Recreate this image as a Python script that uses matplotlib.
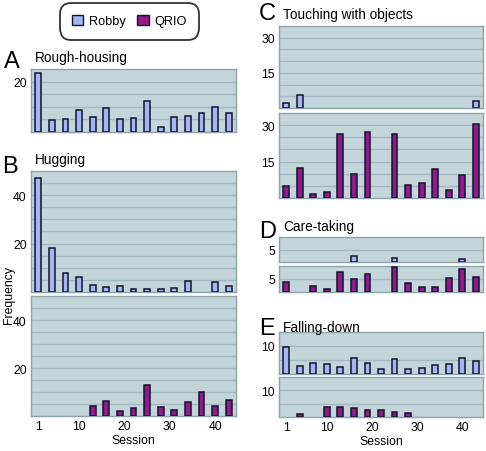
import numpy as np
import matplotlib
matplotlib.use('Agg')
import matplotlib.pyplot as plt
from matplotlib.patches import Patch

plt.rcParams['font.family'] = ['Liberation Sans', 'DejaVu Sans']

sessions = [1, 4, 7, 10, 13, 16, 19, 22, 25, 28, 31, 34, 37, 40, 43]
xticks = [1, 10, 20, 30, 40]

# Robby / QRIO frequencies per session (0 = no bar)
rough_robby = [23.4, 4.8, 5.2, 8.6, 5.8, 9.4, 5.1, 5.4, 12.3, 1.9, 5.9, 6.3, 7.4, 10.1, 7.6]
hug_robby = [47, 18, 8, 6, 3, 2, 2.5, 1.2, 1.3, 1.2, 1.6, 4.5, 0, 4, 2.6]
hug_qrio = [0, 0, 0, 0, 4.1, 6.3, 2.2, 3.2, 13, 3.9, 2.5, 5.9, 9.8, 4.1, 6.6]
touch_robby = [2, 5.5, 0, 0, 0, 0, 0, 0, 0, 0, 0, 0, 0, 0, 3]
touch_qrio = [5, 12.2, 1.7, 2.6, 26.5, 10, 27.2, 0, 26.2, 5.3, 6, 11.9, 3.5, 9.6, 30.4]
care_robby = [0, 0, 0, 0, 0, 2.4, 0, 0, 1.7, 0, 0, 0, 0, 1.4, 0]
care_qrio = [3.9, 0, 2.2, 1.2, 7.6, 4.9, 7, 0, 9.5, 3.4, 2, 1.9, 5.4, 9, 5.8]
fall_robby = [9.6, 2.9, 4.1, 3.6, 2.4, 5.75, 4, 1.9, 5.25, 1.9, 2.1, 3.25, 3.6, 5.75, 4.5]
fall_qrio = [0, 1.3, 0, 3.6, 3.7, 3.2, 2.5, 2.8, 2, 1.5, 0, 0, 0, 0, 0]

robby_color = '#a4b4f4'
qrio_color = '#8e1a8e'
face = '#c3d4db'
grid = '#a3b9c2'
spine = '#8ea4ac'

fig = plt.figure(figsize=(4.86, 4.52), dpi=100)


def panel(rect, values, color, ymax, yticks, show_x=False):
    ax = fig.add_axes(rect)
    ax.set_facecolor(face)
    vals = np.array(values, dtype=float)
    keep = vals > 0
    ax.bar(np.array(sessions)[keep], vals[keep], width=1.3, color=color,
           edgecolor='#14142a', linewidth=1.1, zorder=3)
    ax.set_xlim(-0.6, 44.6)
    ax.set_ylim(0, ymax)
    for g in np.arange(5, ymax, 5):
        ax.axhline(g, color=grid, lw=1.0, zorder=1)
    ax.set_yticks(yticks)
    ax.tick_params(length=0, labelsize=8.8, pad=3)
    if show_x:
        ax.set_xticks(xticks)
        ax.set_xlabel('Session', fontsize=8.8, labelpad=1)
    else:
        ax.set_xticks([])
    for s in ax.spines.values():
        s.set_color(spine)
        s.set_linewidth(1.0)
    return ax


L, LW = 0.0638, 0.4218
R, RW = 0.574, 0.4198

panel([L, 0.7058, LW, 0.1394], rough_robby, robby_color, 25, [20])
panel([L, 0.3518, LW, 0.2677], hug_robby, robby_color, 50, [20, 40])
panel([L, 0.0774, LW, 0.2655], hug_qrio, qrio_color, 50, [20, 40], show_x=True)

panel([R, 0.7588, RW, 0.1814], touch_robby, robby_color, 35, [15, 30])
panel([R, 0.5597, RW, 0.1880], touch_qrio, qrio_color, 35, [15, 30])
panel([R, 0.4181, RW, 0.0553], care_robby, robby_color, 10, [5])
panel([R, 0.3518, RW, 0.0575], care_qrio, qrio_color, 10, [5])
panel([R, 0.1704, RW, 0.0929], fall_robby, robby_color, 15, [10])
panel([R, 0.0752, RW, 0.0885], fall_qrio, qrio_color, 15, [10], show_x=True)

# panel letters and titles
letters = [('A', 0.008, 0.850), ('B', 0.004, 0.618), ('C', 0.533, 0.955),
           ('D', 0.533, 0.474), ('E', 0.533, 0.259)]
for t, x, y in letters:
    fig.text(x, y, t, fontsize=17, va='baseline')
titles = [('Rough-housing', 0.072, 0.862), ('Hugging', 0.072, 0.637),
          ('Touching with objects', 0.582, 0.957), ('Care-taking', 0.582, 0.488),
          ('Falling-down', 0.582, 0.265)]
for t, x, y in titles:
    fig.text(x, y, t, fontsize=9.8, va='baseline')

fig.text(0.018, 0.347, 'Frequency', rotation=90, fontsize=8.8, ha='center', va='center')

handles = [Patch(facecolor=robby_color, edgecolor='#14142a', label='Robby'),
           Patch(facecolor=qrio_color, edgecolor='#14142a', label='QRIO')]
leg = fig.legend(handles=handles, loc='center', bbox_to_anchor=(0.2665, 0.9513),
                 ncol=2, fontsize=9.2, frameon=True, fancybox=True,
                 handlelength=0.9, handleheight=0.9, handletextpad=0.45,
                 columnspacing=0.9, borderpad=0.8)
leg.get_frame().set_edgecolor('black')
leg.get_frame().set_linewidth(1.3)
leg.get_frame().set_boxstyle('round,pad=0.15,rounding_size=0.9')

fig.savefig('out.png', dpi=100)
